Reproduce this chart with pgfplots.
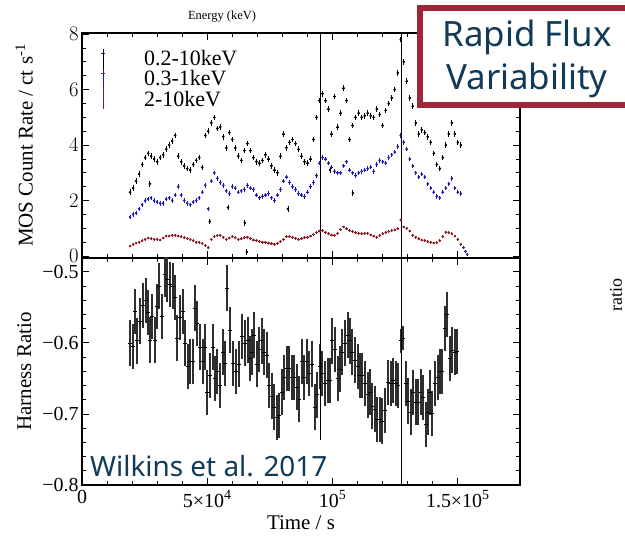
\documentclass[border=0pt]{standalone}
\usepackage{pgfplots}
\pgfplotsset{compat=1.18}
\usepackage{pgfplotstable}
\usepackage{fontspec}
\setmainfont{Liberation Serif}
\newfontfamily\slidefont{Noto Sans}
\definecolor{hblue}{RGB}{25,25,175}
\definecolor{hred}{RGB}{140,25,30}
\definecolor{boxred}{RGB}{158,38,56}
\definecolor{txtblue}{RGB}{16,58,88}

\pgfplotstableread{
t b u r
19200 2.30 1.40 0.36
20400 2.45 1.50 0.42
21600 2.70 1.55 0.47
22800 2.95 1.70 0.50
24000 3.30 1.85 0.55
25200 3.55 2.00 0.60
26400 3.70 2.05 0.65
27600 3.60 2.10 0.63
28800 3.50 2.00 0.60
30000 3.40 1.95 0.60
31200 3.55 1.90 0.58
32400 3.65 1.90 0.65
33600 3.85 2.05 0.72
34800 4.00 2.10 0.72
36000 4.15 2.00 0.75
37200 4.35 2.20 0.75
38400 3.60 2.50 0.72
39600 3.40 2.20 0.70
40800 3.25 2.00 0.66
42000 3.15 1.90 0.63
43200 3.10 1.85 0.60
44400 3.30 1.95 0.55
45600 3.45 2.00 0.50
46800 3.55 2.10 0.50
48000 3.20 2.30 0.45
49200 4.35 2.55 0.38
50400 4.50 1.70 0.30
51600 4.80 2.70 0.60
52800 5.00 3.00 0.70
54000 4.60 2.80 0.74
55200 4.65 2.65 0.75
56400 4.30 2.55 0.68
57600 3.90 2.35 0.60
58800 4.45 2.25 0.65
60000 4.20 2.50 0.70
61200 3.90 2.45 0.66
62400 3.60 2.30 0.60
63600 3.45 2.35 0.62
64800 3.80 2.40 0.66
66000 4.05 2.55 0.68
67200 3.80 2.45 0.63
68400 3.55 2.40 0.58
69600 3.40 2.20 0.56
70800 3.35 2.10 0.53
72000 3.45 2.15 0.50
73200 3.65 2.20 0.50
74400 3.50 2.25 0.47
75600 3.25 2.10 0.44
76800 3.10 2.00 0.43
78000 3.00 2.20 0.46
79200 3.60 2.40 0.52
80400 4.40 2.70 0.60
81600 3.90 2.85 0.70
82800 4.10 2.65 0.70
84000 4.20 2.50 0.68
85200 4.05 2.40 0.64
86400 3.85 2.25 0.60
87600 3.60 2.20 0.62
88800 3.40 2.15 0.66
90000 3.35 2.30 0.68
91200 3.50 2.50 0.72
92400 4.20 2.65 0.78
93600 5.00 2.90 0.85
94800 5.60 3.35 0.90
96000 5.85 3.55 0.92
97200 5.60 3.50 0.86
98400 5.30 3.35 0.80
99600 4.40 3.20 0.76
100800 5.75 3.05 0.75
102000 4.65 3.00 0.82
103200 5.15 3.00 0.95
104400 6.05 3.25 1.05
105600 5.60 3.40 0.98
106800 4.20 3.10 0.92
108000 4.70 3.00 0.88
109200 5.00 2.90 0.84
110400 5.15 3.00 0.82
111600 5.00 3.05 0.80
112800 5.05 3.10 0.82
114000 5.15 3.15 0.82
115200 5.05 3.20 0.76
116400 5.00 3.05 0.72
117600 5.30 3.30 0.68
118800 5.10 3.45 0.74
120000 4.70 3.40 0.80
121200 5.25 3.35 0.85
122400 5.50 3.55 0.88
123600 5.70 3.65 0.92
124800 6.00 3.75 0.94
126000 6.60 3.95 0.98
127200 7.80 4.35 1.30
128400 7.00 4.10 1.05
129600 6.30 3.85 1.00
130800 5.70 3.50 0.90
132000 5.40 3.25 0.75
133200 4.80 3.00 0.68
134400 4.40 2.85 0.62
135600 4.55 2.95 0.58
136800 4.45 2.85 0.55
138000 4.30 2.60 0.52
139200 4.10 2.45 0.50
140400 3.70 2.30 0.47
141600 3.30 2.15 0.48
142800 3.15 2.10 0.55
144000 3.55 2.30 0.70
145200 4.00 2.45 0.86
146400 4.40 2.60 0.84
147600 4.80 2.80 0.80
148800 4.40 2.45 0.72
150000 4.10 2.30 0.60
151200 4.00 2.25 0.42
}\toptab

\pgfplotstableread{
t b
27100 2.60
51000 1.25
58300 1.75
65000 1.20
65800 0.15
82200 1.70
99000 3.10
108100 2.27
}\outliers

\pgfplotstableread{
t u
152300 0.30
153000 0.17
153700 0.06
}\tailtab

\pgfplotstableread{
t h
19150 -0.600
20350 -0.605
21150 -0.556
21950 -0.597
23140 -0.569
24340 -0.547
25540 -0.540
26340 -0.557
27130 -0.596
27930 -0.563
29130 -0.596
29930 -0.549
30720 -0.520
31920 -0.563
33120 -0.503
33920 -0.511
35110 -0.518
36310 -0.520
37110 -0.536
37910 -0.593
39100 -0.564
40300 -0.556
41100 -0.600
42290 -0.633
43090 -0.626
44290 -0.626
45090 -0.551
45890 -0.573
47080 -0.606
48280 -0.626
49080 -0.606
49880 -0.670
51070 -0.646
52270 -0.606
53070 -0.650
53870 -0.640
55060 -0.660
56260 -0.613
57060 -0.629
57860 -0.523
59050 -0.582
60250 -0.629
61450 -0.640
62650 -0.630
63840 -0.591
65040 -0.600
66230 -0.596
67030 -0.622
67830 -0.613
68630 -0.589
69830 -0.630
70620 -0.609
71820 -0.597
72620 -0.613
73820 -0.617
74610 -0.660
75810 -0.675
76610 -0.690
77810 -0.705
78600 -0.702
79800 -0.669
80600 -0.649
81800 -0.636
82590 -0.636
83790 -0.649
84590 -0.649
85790 -0.662
86580 -0.679
87780 -0.626
88580 -0.649
89780 -0.626
90570 -0.643
91770 -0.630
92970 -0.690
93770 -0.673
94960 -0.633
95760 -0.643
96960 -0.657
98150 -0.653
98950 -0.653
99750 -0.597
100950 -0.609
102140 -0.650
102940 -0.637
103740 -0.613
104940 -0.600
106130 -0.589
106930 -0.597
107730 -0.613
108930 -0.624
110120 -0.633
110920 -0.646
111720 -0.646
112920 -0.657
114110 -0.673
114910 -0.669
115710 -0.689
116910 -0.693
117710 -0.708
118900 -0.708
119700 -0.710
120900 -0.695
122090 -0.656
123290 -0.657
124090 -0.653
125290 -0.657
126080 -0.660
129280 -0.657
130070 -0.682
131270 -0.697
132070 -0.670
133270 -0.683
134060 -0.683
135260 -0.669
136060 -0.677
137260 -0.715
138050 -0.697
138850 -0.670
139650 -0.699
140850 -0.657
142040 -0.649
142840 -0.640
143640 -0.640
144840 -0.580
145640 -0.560
146830 -0.622
147630 -0.610
148830 -0.613
149630 -0.612
}\hrtab

\pgfplotstableread{
t h
127280 -0.597
128080 -0.593
}\hrsmall

\pgfplotsset{
  panel/.style={
    scale only axis, width=438bp,
    xmin=0, xmax=174800,
    scaled ticks=false,
    xtick={0,50000,100000,150000},
    minor x tick num=4,
    tick align=inside,
    major tick length=7bp, minor tick length=4bp,
    axis line style={line width=1.2bp},
    every tick/.style={black, line width=0.8bp},
    tick label style={font=\fontsize{20}{22}\selectfont},
    label style={font=\fontsize{21}{24}\selectfont},
    clip=true,
  },
  topbars/.style={only marks, mark=*, mark size=1.1bp,
    error bars/.cd, y dir=both, y fixed=#1, x dir=both, x fixed=450,
    error mark=none, error bar style={line width=0.9bp}},
  ybars/.style n args={3}{draw=none, mark=none,
    error bars/.cd, y dir=both, y fixed=#1, error mark=none,
    error bar style={draw=#3, line width=#2}},
  xbars/.style={draw=none, mark=none,
    error bars/.cd, x dir=both, x fixed=800, error mark=none,
    error bar style={draw=black, line width=0.6bp}},
}

\begin{document}
\begin{tikzpicture}
\useasboundingbox (0,0) rectangle (625bp,538bp);

% ---------------- top panel ----------------
\begin{axis}[panel,
  at={(82bp,280bp)}, anchor=south west, height=225bp,
  ymin=-0.07, ymax=8.04,
  ytick={0,2,4,6,8}, minor y tick num=3,
  xticklabels=\empty,
  ylabel={MOS Count Rate / ct s\textsuperscript{-1}},
  ylabel style={at={(axis description cs:-0.132,0.5)}, anchor=center},
  legend style={at={(axis description cs:0.0394,1.007)}, anchor=north west,
    draw=none, fill=none, font=\fontsize{22}{24}\selectfont,
    row sep=-16.5bp, inner sep=1bp},
  legend cell align=left,
  legend image code/.code={%
    \draw[#1, line width=1.1bp] (0.35cm,-10bp) -- (0.35cm,10bp);
    \draw[#1, line width=0.8bp] (0.27cm,0) -- (0.43cm,0);
    \path[draw=none, fill=none] (0.35cm,0) -- (49bp,0);},
]
\addlegendimage{black}
\addlegendentry{0.2-10keV}
\addlegendimage{hblue}
\addlegendentry{0.3-1keV}
\addlegendimage{hred}
\addlegendentry{2-10keV}
\addplot[forget plot, black, topbars=0.1] table[x=t,y=b] {\toptab};
\addplot[forget plot, hblue, topbars=0.08] table[x=t,y=u] {\toptab};
\addplot[forget plot, hred, topbars=0.05] table[x=t,y=r] {\toptab};
\addplot[forget plot, black, topbars=0.1] table[x=t,y=b] {\outliers};
\addplot[forget plot, hblue!70!hred, topbars=0.05] table[x=t,y=u] {\tailtab};
\addplot[forget plot, black, line width=0.9bp] coordinates {(95000,-1) (95000,9)};
\addplot[forget plot, black, line width=0.9bp] coordinates {(127300,-1) (127300,9)};
\end{axis}

% ---------------- bottom panel ----------------
\begin{axis}[panel,
  at={(82bp,53bp)}, anchor=south west, height=227bp,
  ymin=-0.8, ymax=-0.4805,
  ytick={-0.8,-0.7,-0.6,-0.5},
  yticklabels={−0.8,−0.7,−0.6,−0.5},
  minor y tick num=4,
  xticklabels={0,5\texttimes10\textsuperscript{4},10\textsuperscript{5},1.5\texttimes10\textsuperscript{5}},
  xticklabel style={yshift=-2bp},
  ylabel={Harness Ratio},
  ylabel style={at={(axis description cs:-0.132,0.5)}, anchor=center},
  xlabel={Time / s},
  xlabel style={at={(axis description cs:0.5,-0.198)}, anchor=base},
]
\addplot[ybars={0.032}{1.8bp}{black!82}] table[x=t,y=h] {\hrtab};
\addplot[xbars] table[x=t,y=h] {\hrtab};
\addplot[ybars={0.017}{2.4bp}{black!82}] table[x=t,y=h] {\hrsmall};
\addplot[xbars] table[x=t,y=h] {\hrsmall};
\addplot[black, line width=0.9bp] coordinates {(95000,-0.736) (95000,-0.4)};
\addplot[black, line width=0.9bp] coordinates {(127300,-0.9) (127300,-0.4)};
\end{axis}

% ---------------- annotations ----------------
\node[anchor=base, font=\fontsize{12.5}{14}\selectfont] at (222bp,518bp) {Energy (keV)};
\node[anchor=center, rotate=90, font=\fontsize{18}{20}\selectfont] at (616bp,243bp) {ratio};
\node[anchor=base west, inner sep=0pt, text=txtblue, font=\slidefont\fontsize{28}{32}\selectfont] at (90bp,61bp) {Wilkins et al. 2017};
\draw[boxred, line width=6bp, fill=white] (420bp,433bp) rectangle (660bp,530bp);
\node[anchor=base, text=txtblue, font=\slidefont\fontsize{35}{40}\selectfont] at (527bp,491bp) {Rapid Flux};
\node[anchor=base, text=txtblue, font=\slidefont\fontsize{35}{40}\selectfont] at (527bp,448bp) {Variability};
\end{tikzpicture}
\end{document}
